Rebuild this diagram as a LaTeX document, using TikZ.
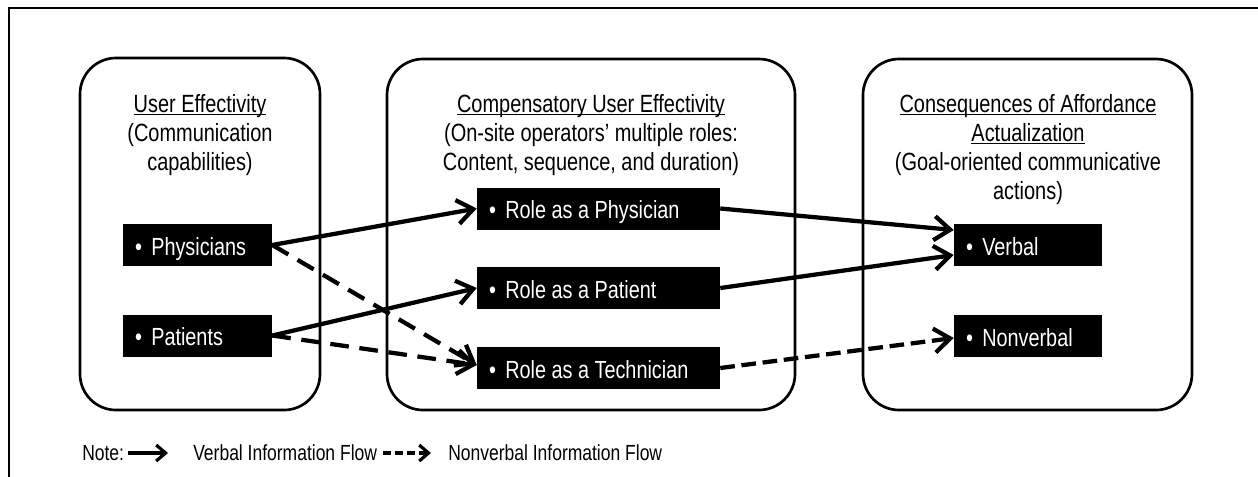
\documentclass[tikz,border=0pt]{standalone}
\usepackage{fontspec}
\setmainfont{Liberation Sans}[FakeStretch=0.8]
\usetikzlibrary{arrows.meta,calc}
\newcommand{\myul}[1]{\setbox0\hbox{#1}\rlap{\rule[-2.4pt]{\wd0}{1.1pt}}\box0}
\newcommand{\bul}{•\hspace{7pt}}
\begin{document}
\begin{tikzpicture}[x=0.75pt,y=-0.75pt,
  frame/.style={line width=2pt},
  panel/.style={draw, line width=2pt, rounded corners=27pt, inner sep=0pt},
  item/.style={fill=black, text=white, font=\fontsize{18.6}{21}\selectfont,
    minimum height=31.5pt, inner xsep=9pt, inner ysep=0pt, align=flush left,
    text height=16.5pt, text depth=1.5pt},
  head/.style={font=\fontsize{18.7}{21}\selectfont, anchor=base, inner sep=0pt},
  notetxt/.style={font=\fontsize{16.4}{18}\selectfont, anchor=base west, inner sep=0pt},
  flow/.style={line width=3.2pt, -{Straight Barb[length=12pt,width=18pt]}},
  nvflow/.style={flow, dash pattern=on 14pt off 8pt},
  nvflowb/.style={flow, dash pattern=on 11pt off 5pt},
  lgflow/.style={line width=2.4pt, -{Straight Barb[length=7pt,width=12pt]}},
  lgnvflow/.style={lgflow, dash pattern=on 6pt off 3pt},
]
\useasboundingbox (0,0) rectangle (1258,476);
% outer frame (cut at right and bottom)
\draw[frame] (9,480) -- (9,8) -- (1262,8);

% panels
\node[panel, minimum width=180pt, minimum height=264pt] (p1) at (200,234) {};
\node[panel, minimum width=306pt, minimum height=263.25pt] (p2) at (591,234.5) {};
\node[panel, minimum width=246.75pt, minimum height=263.25pt] (p3) at (1027.5,234.5) {};

% headings
\node[head] (h1a) at (200,112) {\myul{User Effectivity}};
\node[head] (h1b) at (200,141) {(Communication};
\node[head] (h1c) at (200,170) {capabilities)};

\node[head] (h2a) at (591,112) {\myul{Compensatory User Effectivity}};
\node[head] (h2b) at (591,141) {(On-site operators’ multiple roles:};
\node[head] (h2c) at (591,170) {Content, sequence, and duration)};

\node[head] (h3a) at (1028,112) {\myul{Consequences of Affordance}};
\node[head] (h3b) at (1028,141) {\myul{Actualization}};
\node[head] (h3c) at (1028,170) {(Goal-oriented communicative};
\node[head] (h3d) at (1028,199) {actions)};

% items
\node[item, text width=93.75pt] (phys) at (197.5,245) {\bul Physicians};
\node[item, text width=93.75pt] (pat) at (197.5,335.5) {\bul Patients};

\node[item, text width=164.25pt] (rphys) at (598.5,208.5) {\bul Role as a Physician};
\node[item, text width=164.25pt] (rpat) at (598.5,288) {\bul Role as a Patient};
\node[item, text width=164.25pt] (rtech) at (598.5,368) {\bul Role as a Technician};

\node[item, text width=93pt] (verb) at (1028,245) {\bul Verbal};
\node[item, text width=93pt] (nonverb) at (1028,336) {\bul Nonverbal};

% flows
\draw[flow] (phys.east) -- (rphys.west);
\draw[flow] (pat.east) -- (rpat.west);
\draw[nvflow] (phys.east) -- ($(rtech.west)+(0,-3)$);
\draw[nvflow] (pat.east) -- ($(rtech.west)+(0,-3)$);
\draw[flow] (rphys.east) -- ($(verb.west)+(0,-15)$);
\draw[flow] (rpat.east) -- ($(verb.west)+(0,10)$);
\draw[nvflowb] (rtech.east) -- ($(nonverb.west)+(0,2)$);

% legend
\node[notetxt] (note) at (82,460) {Note:};
\node[notetxt] (lverb) at (193,460) {Verbal Information Flow};
\node[notetxt] (lnonverb) at (448,460) {Nonverbal Information Flow};
\coordinate (l1s) at (128,453);
\coordinate (l1e) at (168,453);
\coordinate (l2s) at (383,453);
\coordinate (l2e) at (431,453);
\draw[lgflow] (l1s) -- (l1e);
\draw[lgnvflow] (l2s) -- (l2e);
\end{tikzpicture}
\end{document}
